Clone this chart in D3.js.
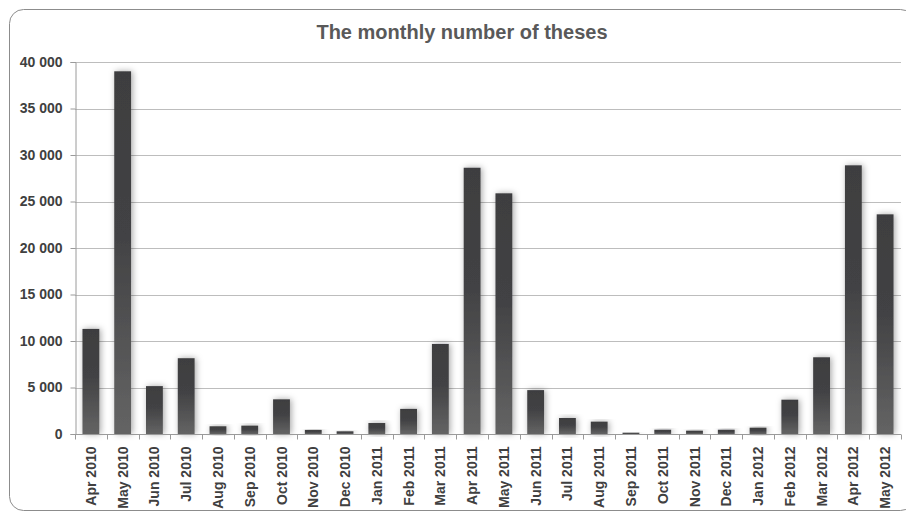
<!DOCTYPE html>
<html>
<head>
<meta charset="utf-8">
<script src="https://cdn.jsdelivr.net/npm/d3@7"></script>
<style>
  html, body { margin: 0; padding: 0; background: #fff; }
  svg { display: block; font-family: "Liberation Sans", Arial, sans-serif; }
</style>
</head>
<body>
<svg id="chart" width="906" height="515"></svg>
<script>
// Monthly number of theses, April 2010 – May 2012
const months = [
  "Apr 2010", "May 2010", "Jun 2010", "Jul 2010", "Aug 2010", "Sep 2010",
  "Oct 2010", "Nov 2010", "Dec 2010", "Jan 2011", "Feb 2011", "Mar 2011",
  "Apr 2011", "May 2011", "Jun 2011", "Jul 2011", "Aug 2011", "Sep 2011",
  "Oct 2011", "Nov 2011", "Dec 2011", "Jan 2012", "Feb 2012", "Mar 2012",
  "Apr 2012", "May 2012"
];
const theses = [
  11300, 39000, 5150, 8150, 830, 900,
  3730, 440, 290, 1180, 2700, 9680,
  28630, 25880, 4720, 1720, 1330, 140,
  460, 360, 460, 680, 3690, 8250,
  28890, 23620
];
const yTicks = [0, 5000, 10000, 15000, 20000, 25000, 30000, 35000, 40000];
const chartTitle = "The monthly number of theses";

const svg = d3.select("#chart");
const W = 906, H = 515;
const margin = { left: 75, right: 5, top: 62, bottom: 81 };

const defs = svg.append("defs");
const grad = defs.append("linearGradient")
  .attr("id", "barFill").attr("x1", 0).attr("y1", 0).attr("x2", 0).attr("y2", 1);
grad.append("stop").attr("offset", "0%").attr("stop-color", "#3e3e40");
grad.append("stop").attr("offset", "45%").attr("stop-color", "#424244");
grad.append("stop").attr("offset", "100%").attr("stop-color", "#646464");

const glow = defs.append("filter").attr("id", "barGlow")
  .attr("x", "-80%").attr("y", "-20%").attr("width", "260%").attr("height", "140%");
glow.append("feDropShadow")
  .attr("dx", 1.5).attr("dy", 0).attr("stdDeviation", 3)
  .attr("flood-color", "#000").attr("flood-opacity", 0.35);

// outer frame
svg.append("rect")
  .attr("x", 9.5).attr("y", 9.5).attr("width", 905).attr("height", 501)
  .attr("rx", 14).attr("ry", 14)
  .attr("fill", "#fff").attr("stroke", "#8c8c8c").attr("stroke-width", 1);

svg.append("text")
  .attr("x", 462).attr("y", 39)
  .attr("text-anchor", "middle")
  .attr("font-size", 20).attr("font-weight", "bold")
  .attr("fill", "#595959")
  .text(chartTitle);

const x = d3.scaleBand()
  .domain(months)
  .range([margin.left, W - margin.right])
  .paddingInner(0.47).paddingOuter(0.235);

const y = d3.scaleLinear()
  .domain([0, 40000])
  .range([H - margin.bottom, margin.top]);

const fmt = v => d3.format(",")(v).replace(/,/g, " ");

// gridlines
svg.append("g")
  .selectAll("line")
  .data(yTicks.filter(d => d > 0))
  .join("line")
  .attr("x1", margin.left).attr("x2", W - margin.right)
  .attr("y1", d => Math.round(y(d)) + 0.5).attr("y2", d => Math.round(y(d)) + 0.5)
  .attr("stroke", "#bdbdbd").attr("stroke-width", 1);

// bars
svg.append("g")
  .selectAll("rect")
  .data(theses)
  .join("rect")
  .attr("x", (d, i) => x(months[i]))
  .attr("width", x.bandwidth())
  .attr("y", d => y(d))
  .attr("height", d => y(0) - y(d))
  .attr("fill", "url(#barFill)")
  .attr("filter", "url(#barGlow)");

// y axis
const yAxis = svg.append("g")
  .attr("transform", `translate(${margin.left + 0.5},0)`)
  .call(d3.axisLeft(y).tickValues(yTicks).tickSize(5).tickPadding(8).tickFormat(fmt));
yAxis.select(".domain").attr("stroke", "#9a9a9a");
yAxis.selectAll(".tick line").attr("stroke", "#9a9a9a");
yAxis.selectAll(".tick text")
  .attr("font-size", 14).attr("font-weight", "bold")
  .attr("fill", "#404040").attr("font-family", "Liberation Sans, Arial, sans-serif");

// x axis: baseline with ticks at category boundaries
const xg = svg.append("g").attr("transform", `translate(0,${Math.round(y(0)) + 0.5})`);
xg.append("line")
  .attr("x1", margin.left).attr("x2", W - margin.right)
  .attr("stroke", "#9a9a9a");
const step = x.step();
xg.selectAll("line.tk")
  .data(d3.range(months.length + 1))
  .join("line").attr("class", "tk")
  .attr("x1", i => Math.round(margin.left + i * step) + 0.5)
  .attr("x2", i => Math.round(margin.left + i * step) + 0.5)
  .attr("y1", 0).attr("y2", 5)
  .attr("stroke", "#9a9a9a");
xg.selectAll("text")
  .data(months)
  .join("text")
  .attr("transform", d => `translate(${x(d) + x.bandwidth() / 2 + 5},12) rotate(-90)`)
  .attr("text-anchor", "end")
  .attr("font-size", 14).attr("font-weight", "bold")
  .attr("fill", "#404040")
  .text(d => d);
</script>
</body>
</html>
